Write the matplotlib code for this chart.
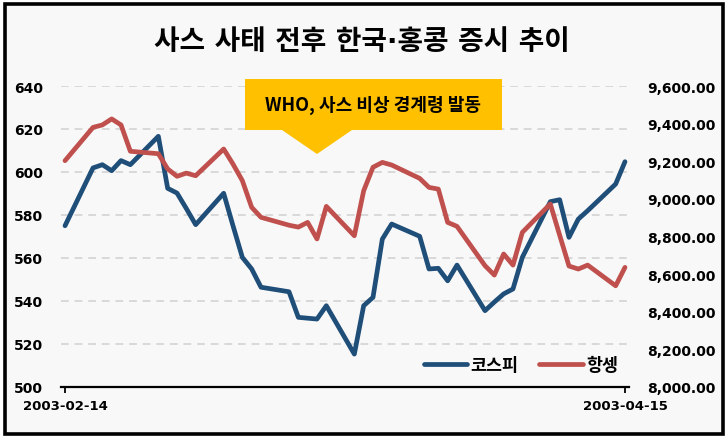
import matplotlib
matplotlib.use("Agg")
import matplotlib.pyplot as plt
import pandas as pd
from matplotlib.patches import Rectangle, Polygon

dates = [
    "2003-02-14", "2003-02-17", "2003-02-18", "2003-02-19", "2003-02-20", "2003-02-21",
    "2003-02-24", "2003-02-25", "2003-02-26", "2003-02-27", "2003-02-28",
    "2003-03-03", "2003-03-04", "2003-03-05", "2003-03-06", "2003-03-07",
    "2003-03-10", "2003-03-11", "2003-03-12", "2003-03-13", "2003-03-14",
    "2003-03-17", "2003-03-18", "2003-03-19", "2003-03-20", "2003-03-21",
    "2003-03-24", "2003-03-25", "2003-03-26", "2003-03-27", "2003-03-28",
    "2003-03-31", "2003-04-01", "2003-04-02", "2003-04-03", "2003-04-04",
    "2003-04-07", "2003-04-08", "2003-04-09", "2003-04-10", "2003-04-11",
    "2003-04-14", "2003-04-15",
]
kospi = [
    575.0, 601.9, 603.4, 600.6, 605.3, 603.4, 616.6, 592.4, 590.2, 583.0, 575.5,
    590.1, 575.0, 560.3, 554.9, 546.4, 544.3, 532.4, 532.0, 531.6, 537.8,
    515.3, 537.8, 541.7, 568.8, 575.8, 570.1, 554.9, 555.2, 549.4, 556.7,
    535.5, 539.5, 543.3, 545.6, 560.3, 586.2, 587.1, 569.6, 578.1, 582.0,
    594.4, 604.8,
]
hsi = [
    9203, 9380, 9393, 9425, 9393, 9253, 9240, 9159, 9120, 9137, 9123,
    9265, 9185, 9097, 8955, 8902, 8860, 8850, 8875, 8787, 8960,
    8804, 9043, 9168, 9194, 9180, 9109, 9061, 9052, 8875, 8854,
    8645, 8595, 8707, 8648, 8822, 8973, 8807, 8643, 8627, 8648,
    8538, 8636,
]
left_ticks = [500, 520, 540, 560, 580, 600, 620, 640]
right_ticks = [8000, 8200, 8400, 8600, 8800, 9000, 9200, 9400, 9600]
title = "사스 사태 전후 한국·홍콩 증시 추이"
note = "WHO, 사스 비상 경계령 발동"

W, H = 728, 439
KR = "Noto Sans CJK KR"
x = pd.to_datetime(dates)

fig = plt.figure(figsize=(W / 100, H / 100), dpi=100)
fig.patch.set_facecolor("white")

# outer frame
fig.add_artist(Rectangle((5 / W, 4.5 / H), 717.5 / W, 430 / H, transform=fig.transFigure,
                         facecolor="#F8F8F8", edgecolor="black", lw=2.6, zorder=-5))

ax = fig.add_axes([61 / W, 51 / H, 568 / W, 301 / H])
ax.set_facecolor("none")
ax2 = ax.twinx()

ax.plot(x, kospi, color="#1F4E79", lw=3.4, solid_joinstyle="round",
        solid_capstyle="round", label="코스피", zorder=3)
ax2.plot(x, hsi, color="#C0504D", lw=3.4, solid_joinstyle="round",
         solid_capstyle="round", label="항셍", zorder=3)

pad = pd.Timedelta(days=0.43)
ax.set_xlim(x[0] - pad, x[-1] + pad)
ax.set_ylim(500, 640)
ax2.set_ylim(8000, 9600)

ax.set_yticks(left_ticks)
ax.set_yticklabels([str(v) for v in left_ticks], fontsize=10, fontweight="bold")
ax2.set_yticks(right_ticks)
ax2.set_yticklabels([f"{v:,.2f}" for v in right_ticks], fontsize=10, fontweight="bold")
ax.tick_params(axis="y", length=0, pad=13)
ax2.tick_params(axis="y", length=0, pad=13)

ax.set_xticks([x[0], x[-1]])
ax.set_xticklabels([dates[0], dates[-1]], fontsize=9.5, fontweight="bold")
ax.tick_params(axis="x", length=4, width=1.3, pad=5, direction="out")

ax.yaxis.grid(True, color="#D9D9D9", linestyle=(0, (4, 3)), linewidth=1.4)
ax.set_axisbelow(True)
for s in ["top", "left", "right"]:
    ax.spines[s].set_visible(False)
for s in ax2.spines.values():
    s.set_visible(False)
ax.spines["bottom"].set_linewidth(1.6)
ax.spines["bottom"].set_zorder(4)

h1, l1 = ax.get_legend_handles_labels()
h2, l2 = ax2.get_legend_handles_labels()
ax2.legend(h1 + h2, l1 + l2, loc="center", bbox_to_anchor=(521 / W, 1 - 366 / H),
           bbox_transform=fig.transFigure, ncol=2, frameon=False,
           handlelength=2.5, handletextpad=0.2, columnspacing=1.2,
           prop={"family": KR, "weight": "bold", "size": 12.5})

# DejaVu first so the middle dot stays narrow, Hangul falls back to Noto
fig.text(362 / W, 1 - 42 / H, title, ha="center", va="center",
         fontsize=20, fontweight="bold", family=["DejaVu Sans", KR])

# callout box
pts = [(245, 80), (502, 80), (502, 131), (352, 131), (317, 155), (282, 131), (245, 131)]
fig.add_artist(Polygon([(px / W, 1 - py / H) for px, py in pts], closed=True,
                       transform=fig.transFigure, facecolor="#FFC000",
                       edgecolor="none", zorder=5))
fig.text(373 / W, 1 - 105 / H, note, ha="center", va="center", fontsize=13,
         fontweight="bold", family=KR, zorder=6)

fig.savefig("out.png", dpi=100, facecolor=fig.get_facecolor())
